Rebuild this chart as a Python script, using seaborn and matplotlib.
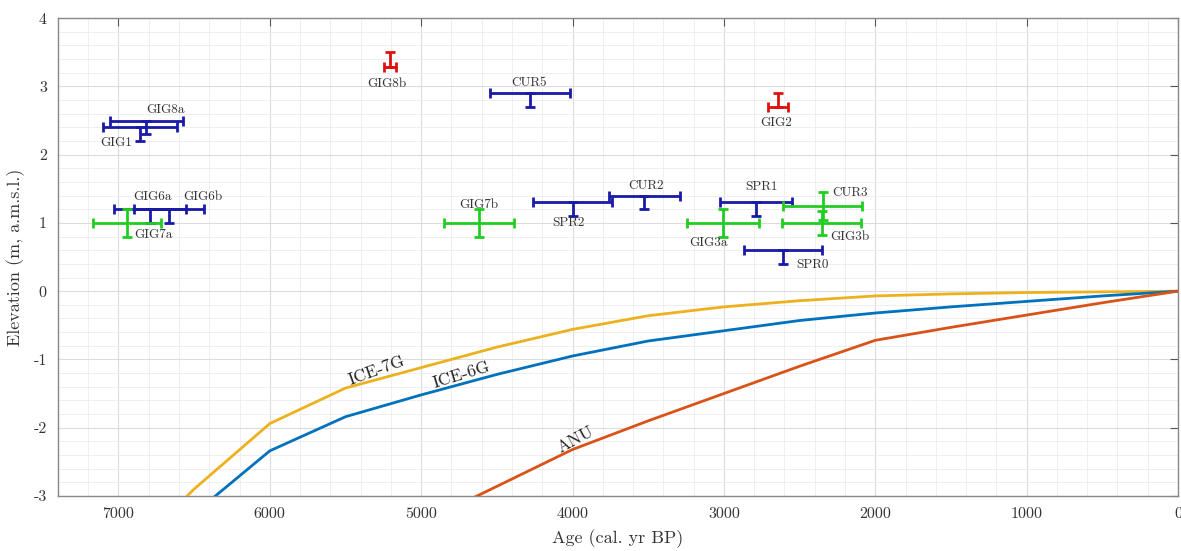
import numpy as np
import pandas as pd
import matplotlib
matplotlib.use("Agg")
import matplotlib.pyplot as plt
import seaborn as sns
from matplotlib.ticker import MultipleLocator

# ---------------- data ----------------
# model curves (age in cal. yr BP, elevation in m)
model_ages = [7000, 6500, 6000, 5500, 5000, 4500, 4000, 3500, 3000, 2500, 2000, 1500, 1000, 500, 0]
ice7g = [-4.0, -2.90, -1.94, -1.42, -1.12, -0.82, -0.56, -0.36, -0.23, -0.14, -0.07, -0.04, -0.02, -0.01, 0.0]
ice6g = [-4.2, -3.26, -2.34, -1.84, -1.52, -1.22, -0.95, -0.73, -0.58, -0.43, -0.32, -0.23, -0.15, -0.07, 0.0]
anu_ages = [5000, 4500, 4000, 3500, 3000, 2500, 2000, 1500, 1000, 500, 0]
anu = [-3.40, -2.86, -2.32, -1.90, -1.50, -1.10, -0.72, -0.53, -0.35, -0.17, 0.0]

# sea-level indicators
names    = ["GIG8a", "GIG1", "GIG6a", "GIG6b", "CUR5", "SPR2", "CUR2", "SPR1", "SPR0",
            "GIG7a", "GIG7b", "GIG3a", "GIG3b", "CUR3",
            "GIG8b", "GIG2"]
kinds    = ["blue"] * 9 + ["green"] * 5 + ["red"] * 2
ages     = [6815, 6855, 6790, 6665, 4280, 4000, 3525, 2787, 2607,
            6943, 4615, 3008, 2354, 2347,
            5206, 2645]
age_err  = [240, 245, 237, 232, 265, 260, 236, 240, 258,
            226, 231, 237, 262, 262,
            42, 66]
elev     = [2.5, 2.4, 1.2, 1.2, 2.9, 1.3, 1.4, 1.3, 0.6,
            1.0, 1.0, 1.0, 1.0, 1.25,
            3.28, 2.7]
elev_err = [0.2, 0.2, 0.2, 0.2, 0.2, 0.2, 0.2, 0.2, 0.2,
            0.2, 0.2, 0.2, 0.18, 0.2,
            0.22, 0.2]
label_x  = [6690, 7013, 6778, 6439, 4285, 4027, 3512, 2754, 2417,
            6769, 4622, 3100, 2171, 2166,
            5224, 2653]
label_y  = [2.66, 2.17, 1.38, 1.38, 3.05, 1.00, 1.54, 1.52, 0.38,
            0.83, 1.26, 0.71, 0.80, 1.44,
            3.03, 2.47]

curve_labels = ["ICE-7G", "ICE-6G", "ANU"]
curve_label_x = [5296, 4733, 3977]
curve_label_y = [-1.17, -1.23, -2.17]
curve_label_rot = [20, 17, 28]

x_ticks = [7000, 6000, 5000, 4000, 3000, 2000, 1000, 0]
y_ticks = [-3, -2, -1, 0, 1, 2, 3, 4]

# ---------------- style ----------------
sns.set_theme(style="white")
plt.rcParams['font.family'] = ['cmr10', 'DejaVu Serif']
plt.rcParams['axes.unicode_minus'] = False
plt.rcParams['mathtext.fontset'] = 'cm'

colors = {"blue": "#1a1aa8", "green": "#22cc22", "red": "#e01010"}
c7g, c6g, canu = "#EDB120", "#0072BD", "#D95319"

fig = plt.figure(figsize=(11.81, 5.51), dpi=100)
ax = fig.add_axes([0.049, 0.100, 0.9485, 0.867])

# curves via seaborn
df7 = pd.DataFrame({"age": model_ages, "elev": ice7g})
df6 = pd.DataFrame({"age": model_ages, "elev": ice6g})
dfa = pd.DataFrame({"age": anu_ages, "elev": anu})
sns.lineplot(data=df7, x="age", y="elev", ax=ax, color=c7g, lw=2.0, sort=False, zorder=3)
sns.lineplot(data=df6, x="age", y="elev", ax=ax, color=c6g, lw=2.0, sort=False, zorder=3)
sns.lineplot(data=dfa, x="age", y="elev", ax=ax, color=canu, lw=2.0, sort=False, zorder=3)

for lab, lx, ly, rot in zip(curve_labels, curve_label_x, curve_label_y, curve_label_rot):
    ax.text(lx, ly, lab, rotation=rot, ha="center", va="center", fontsize=12.5,
            color="#222222", rotation_mode="anchor", zorder=5)

# indicators
for n, k, a, ae, e, ee, lx, ly in zip(names, kinds, ages, age_err, elev, elev_err, label_x, label_y):
    if k == "blue":
        yerr = [[ee], [0]]
    elif k == "red":
        yerr = [[0], [ee]]
    else:
        yerr = [[ee], [ee]]
    ax.errorbar([a], [e], xerr=[[ae], [ae]], yerr=yerr, fmt="none",
                ecolor=colors[k], elinewidth=2.0, capsize=3.5, capthick=2.0, zorder=4)
    ax.text(lx, ly, n, ha="center", va="center", fontsize=9.5, color="#333333", zorder=5)

ax.set_xlim(7400, 0)
ax.set_ylim(-3, 4)
ax.set_xticks(x_ticks)
ax.set_yticks(y_ticks)
ax.set_xticklabels([str(t) for t in x_ticks])
ax.set_yticklabels([str(t) for t in y_ticks])
ax.xaxis.set_minor_locator(MultipleLocator(200))
ax.yaxis.set_minor_locator(MultipleLocator(0.2))
ax.grid(which="major", color="#dcdcdc", lw=0.8, zorder=0)
ax.grid(which="minor", color="#ececec", lw=0.6, zorder=0)
ax.set_axisbelow(True)

ax.tick_params(which="major", direction="in", length=6, width=0.8, color="#555555",
               top=True, right=True, labelsize=11.5, labelcolor="#333333", pad=8)
ax.tick_params(which="minor", length=0)
for s in ax.spines.values():
    s.set_color("#888888")
    s.set_linewidth(1.0)

ax.set_xlabel("Age (cal. yr BP)", fontsize=13, color="#333333", labelpad=6)
ax.set_ylabel("Elevation (m, a.m.s.l.)", fontsize=13, color="#333333", labelpad=6)

fig.savefig("out.png", dpi=100)
